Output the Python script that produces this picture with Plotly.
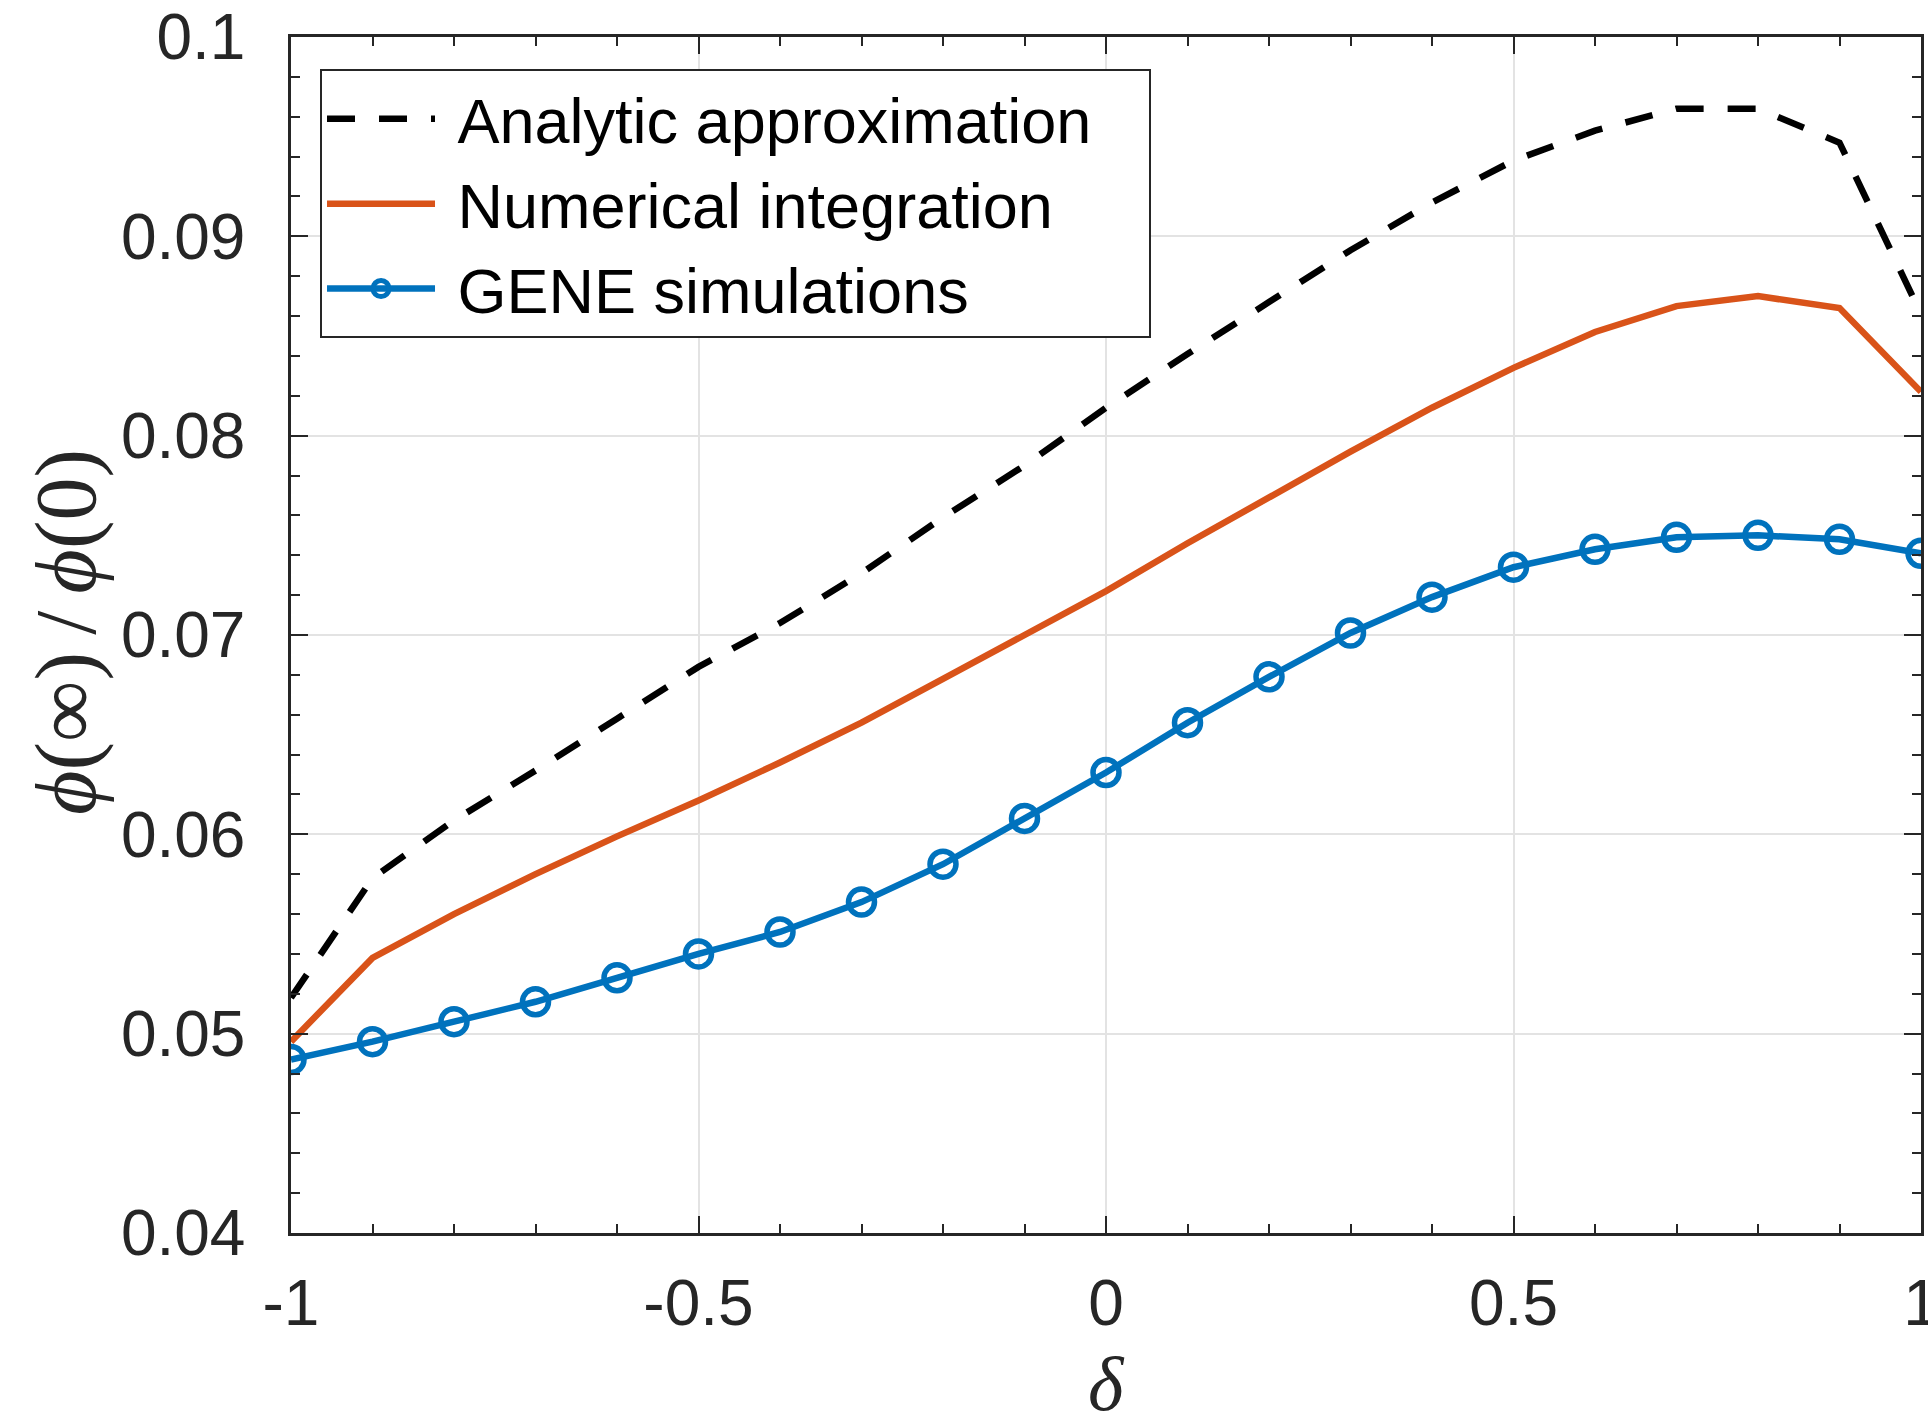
import plotly.graph_objects as go

delta = [-1.0, -0.9, -0.8, -0.7, -0.6, -0.5, -0.4, -0.3, -0.2, -0.1, 0.0,
         0.1, 0.2, 0.3, 0.4, 0.5, 0.6, 0.7, 0.8, 0.9, 1.0]

analytic = [0.0518, 0.0578, 0.0607, 0.0632, 0.0658, 0.0684, 0.0706, 0.0731,
            0.0759, 0.0785, 0.0814, 0.0841, 0.0867, 0.0893, 0.0917, 0.0938,
            0.0953, 0.0964, 0.0964, 0.0947, 0.0861]

numerical = [0.0496, 0.0538, 0.0560, 0.0580, 0.0599, 0.0617, 0.0636, 0.0656,
             0.0678, 0.0700, 0.0722, 0.0746, 0.0769, 0.0792, 0.0814, 0.0834,
             0.0852, 0.0865, 0.0870, 0.0864, 0.0822]

gene = [0.0487, 0.0496, 0.0506, 0.0516, 0.0528, 0.0540, 0.0551, 0.0566,
        0.0585, 0.0608, 0.0631, 0.0656, 0.0679, 0.0701, 0.0719, 0.0734,
        0.0743, 0.0749, 0.0750, 0.0748, 0.0741]

xtick_vals = [-1, -0.5, 0, 0.5, 1]
xtick_text = ["-1", "-0.5", "0", "0.5", "1"]
ytick_vals = [0.04, 0.05, 0.06, 0.07, 0.08, 0.09, 0.1]
ytick_text = ["0.04", "0.05", "0.06", "0.07", "0.08", "0.09", "0.1"]

x_title = "<i>δ</i>"
y_title = "<i>ϕ</i>(∞)\u2009/\u2009<i>ϕ</i>(0)"

FONT = "Liberation Sans, Arial, Helvetica, sans-serif"
SERIF = "Liberation Serif, DejaVu Serif, serif"
AXC = "#262626"
NB = "\u00a0"

fig = go.Figure()
fig.add_trace(go.Scatter(x=delta, y=analytic, mode="lines",
                         name=NB + "Analytic approximation" + NB * 3,
                         line=dict(color="black", width=6.5, dash="28px,24px")))
fig.add_trace(go.Scatter(x=delta, y=numerical, mode="lines", name=NB + "Numerical integration",
                         line=dict(color="#D95319", width=6.5)))
fig.add_trace(go.Scatter(x=delta, y=gene, mode="lines+markers", name=NB + "GENE simulations",
                         line=dict(color="#0072BD", width=6.5),
                         marker=dict(symbol="circle-open", size=26,
                                     line=dict(color="#0072BD", width=5.5))))

axis_common = dict(
    showline=True, linecolor=AXC, linewidth=2.5, mirror="ticks",
    ticks="inside", tickcolor=AXC, tickwidth=2, ticklen=17,
    showgrid=True, gridcolor="#E3E3E3", gridwidth=2,
    zeroline=False,
    tickfont=dict(family=FONT, size=64, color=AXC),
)

fig.update_xaxes(range=[-1, 1], tickvals=xtick_vals, ticktext=xtick_text,
                 minor=dict(dtick=0.1, tick0=0, ticks="inside", ticklen=9,
                            tickwidth=2, tickcolor=AXC, showgrid=False),
                 ticklabelstandoff=12, ticklabeloverflow="allow",
                 **axis_common)
fig.update_yaxes(range=[0.04, 0.1], tickvals=ytick_vals, ticktext=ytick_text,
                 minor=dict(dtick=0.002, tick0=0.04, ticks="inside", ticklen=9,
                            tickwidth=2, tickcolor=AXC, showgrid=False),
                 ticklabelstandoff=30, ticklabeloverflow="allow",
                 **axis_common)

# axis titles placed as annotations (pixel-accurate placement)
fig.add_annotation(text=x_title, xref="paper", yref="paper", x=0.5, y=-0.126,
                   xanchor="center", yanchor="middle", showarrow=False,
                   font=dict(family=SERIF, size=76, color=AXC))
fig.add_annotation(text=y_title, xref="paper", yref="paper", x=-0.138, y=0.5025,
                   xanchor="center", yanchor="middle", showarrow=False, textangle=-90,
                   font=dict(family=SERIF, size=86, color=AXC))

fig.update_layout(
    width=1928, height=1418,
    margin=dict(l=291, r=7, t=37, b=185, autoexpand=False),
    paper_bgcolor="white", plot_bgcolor="white",
    showlegend=True,
    legend=dict(x=0.0178, y=0.973, xanchor="left", yanchor="top",
                bgcolor="white", bordercolor=AXC, borderwidth=2,
                font=dict(family=FONT, size=63, color="black"),
                itemwidth=108, tracegroupgap=0),
)

fig.write_html("out.html")
